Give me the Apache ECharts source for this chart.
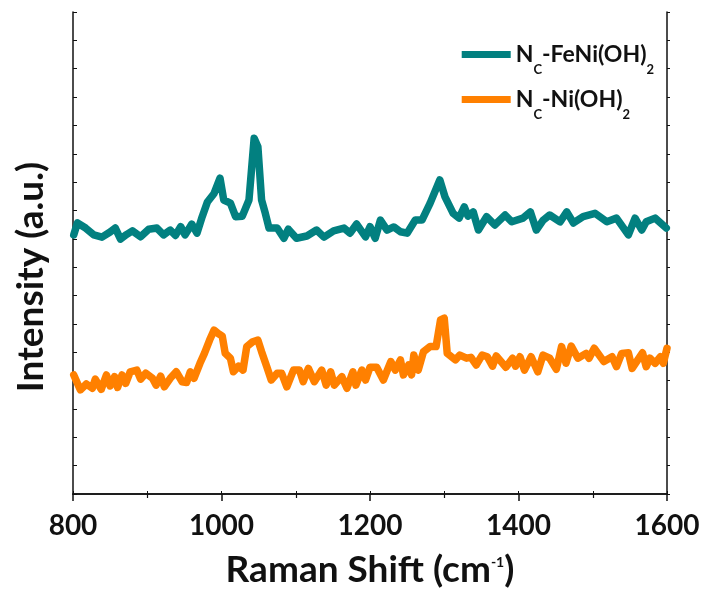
<!DOCTYPE html>
<html>
<head>
<meta charset="utf-8">
<script src="https://cdn.jsdelivr.net/npm/echarts@6/dist/echarts.min.js"></script>
<style>
html,body{margin:0;padding:0;background:#fff;}
#main{width:705px;height:594px;}
</style>
</head>
<body>
<div id="main"></div>
<script>
// Raman spectra (intensity in arbitrary units)
var seriesNames = ['NC-FeNi(OH)2', 'NC-Ni(OH)2'];
var xTicks = [800, 1000, 1200, 1400, 1600];

var fenX = [801, 806, 817, 828, 839, 850, 857, 864, 872, 880, 891, 902, 913, 922, 931, 938, 945, 951, 960, 967, 974, 981, 990, 998, 1003, 1012, 1019, 1028, 1037, 1044, 1049, 1054, 1059, 1064, 1075, 1084, 1090, 1101, 1115, 1128, 1138, 1151, 1165, 1173, 1182, 1194, 1200, 1207, 1214, 1223, 1232, 1241, 1250, 1261, 1270, 1281, 1294, 1301, 1312, 1320, 1327, 1332, 1339, 1346, 1357, 1368, 1382, 1391, 1406, 1416, 1424, 1433, 1442, 1456, 1465, 1474, 1487, 1503, 1519, 1532, 1548, 1557, 1566, 1572, 1584, 1599];
var fenY = [91.4, 95.6, 93.8, 91.4, 90.6, 92.4, 93.8, 89.9, 91.5, 92.8, 90.7, 93.4, 93.8, 91.4, 93.1, 91.2, 94.3, 91.4, 95.2, 92.0, 97.8, 103.0, 106.0, 111.4, 103.7, 102.6, 97.8, 98.0, 103.7, 125.5, 122.5, 103.7, 99.0, 93.8, 93.8, 90.2, 93.4, 90.2, 91.0, 93.1, 90.6, 92.8, 93.8, 92.0, 95.2, 90.7, 94.3, 90.2, 96.6, 93.1, 94.2, 92.5, 92.0, 96.6, 96.6, 102.6, 110.8, 104.8, 99.0, 97.3, 101.3, 98.0, 99.5, 93.1, 97.8, 94.9, 98.4, 96.0, 97.3, 99.5, 93.1, 96.5, 98.4, 96.0, 99.5, 95.6, 97.8, 99.0, 96.0, 97.3, 91.4, 97.3, 93.1, 96.0, 97.3, 93.8];

var niX = [801, 810, 818, 826, 830, 838, 845, 850, 856, 860, 866, 871, 877, 886, 891, 898, 907, 912, 918, 923, 931, 939, 947, 953, 958, 963, 971, 977, 984, 990, 995, 1001, 1005, 1012, 1016, 1023, 1029, 1034, 1042, 1049, 1054, 1061, 1067, 1075, 1081, 1088, 1097, 1105, 1110, 1117, 1125, 1135, 1141, 1147, 1152, 1162, 1169, 1177, 1181, 1189, 1194, 1200, 1209, 1218, 1228, 1234, 1241, 1245, 1252, 1256, 1259, 1265, 1272, 1281, 1289, 1295, 1300, 1304, 1315, 1321, 1330, 1336, 1343, 1351, 1358, 1365, 1370, 1383, 1392, 1396, 1402, 1408, 1417, 1426, 1433, 1442, 1451, 1458, 1464, 1471, 1480, 1491, 1495, 1502, 1515, 1526, 1532, 1539, 1548, 1553, 1567, 1572, 1577, 1584, 1591, 1595, 1600];
var niY = [42.0, 36.7, 38.8, 37.3, 40.5, 36.9, 42.0, 38.1, 41.4, 37.6, 42.0, 39.0, 43.1, 43.7, 40.5, 42.6, 40.8, 38.4, 41.6, 37.8, 40.8, 43.1, 39.6, 39.3, 43.1, 40.8, 46.1, 49.6, 54.3, 57.8, 56.7, 55.7, 49.6, 47.9, 43.1, 45.1, 43.7, 52.0, 53.7, 54.3, 50.2, 44.9, 40.2, 42.6, 42.6, 37.8, 43.7, 43.7, 39.6, 44.3, 39.6, 43.7, 38.4, 43.1, 38.4, 41.4, 37.3, 43.1, 38.4, 43.7, 40.2, 44.7, 44.7, 40.2, 46.7, 43.7, 47.3, 42.0, 45.5, 42.0, 49.0, 43.7, 50.2, 52.0, 52.0, 61.4, 62.0, 49.6, 47.3, 49.0, 47.9, 48.2, 45.5, 49.0, 48.4, 45.1, 48.7, 44.7, 47.9, 45.1, 48.4, 43.7, 48.4, 43.1, 49.0, 47.9, 44.0, 52.0, 46.1, 52.2, 47.9, 49.6, 47.9, 51.4, 46.7, 48.4, 44.9, 49.6, 49.8, 44.3, 49.8, 44.9, 47.9, 46.1, 48.4, 46.1, 51.4];

function pairs(xs, ys) {
    var out = [];
    for (var i = 0; i < xs.length; i++) out.push([xs[i], ys[i]]);
    return out;
}

var fontFam = 'Lato, "Open Sans", sans-serif';

var myChart = echarts.init(document.getElementById('main'));

var option = {
    backgroundColor: '#fff',
    animation: false,
    grid: { left: 73, right: 38, top: 12, bottom: 100 },
    legend: {
        orient: 'vertical',
        right: 46,
        top: 28,
        itemWidth: 49,
        itemHeight: 7,
        itemGap: 2,
        icon: 'rect',
        data: seriesNames,
        formatter: function (name) {
            if (name === seriesNames[0]) return '{n|N}{s|C}{n|-FeNi(OH)}{s|2}';
            return '{n|N}{s|C}{n|-Ni(OH)}{s|2}';
        },
        textStyle: {
            rich: {
                n: { fontFamily: fontFam, fontWeight: 'bold', fontSize: 23, color: '#111', verticalAlign: 'middle', lineHeight: 24 },
                s: { fontFamily: fontFam, fontWeight: 'bold', fontSize: 13, color: '#111', verticalAlign: 'middle', lineHeight: 12, padding: [30, 0, 0, 0] }
            }
        }
    },
    xAxis: [
        {
            type: 'value',
            min: 800, max: 1600, interval: 200,
            name: '{a|Raman Shift (cm}{b|-1}{a|)}',
            nameLocation: 'middle',
            nameGap: 54,
            nameTextStyle: {
                rich: {
                    a: { fontFamily: fontFam, fontWeight: 'bold', fontSize: 37, color: '#111', verticalAlign: 'middle', lineHeight: 44 },
                    b: { fontFamily: fontFam, fontWeight: 'bold', fontSize: 14, color: '#111', verticalAlign: 'middle', lineHeight: 16, padding: [0, 0, 16, 0] }
                }
            },
            axisLine: { lineStyle: { color: '#111', width: 1.5 } },
            axisTick: { inside: false, length: 7, lineStyle: { color: '#111', width: 1.5 } },
            minorTick: { show: true, splitNumber: 2, length: 4, lineStyle: { color: '#111', width: 1.2 } },
            axisLabel: {
                fontFamily: fontFam, fontWeight: 'bold', fontSize: 28, color: '#111', margin: 18,
                formatter: function (v) { return String(v); }
            },
            splitLine: { show: false }
        },
        {
            type: 'value',
            position: 'top',
            min: 800, max: 1600, interval: 100,
            axisLine: { lineStyle: { color: '#111', width: 1.5 } },
            axisTick: { inside: false, length: 3, lineStyle: { color: '#111' } },
            axisLabel: { show: false },
            splitLine: { show: false }
        }
    ],
    yAxis: [
        {
            type: 'value',
            min: 0, max: 170, interval: 10,
            name: 'Intensity (a.u.)',
            nameLocation: 'middle',
            nameGap: 23,
            nameRotate: 90,
            nameTextStyle: { fontFamily: fontFam, fontWeight: 'bold', fontSize: 37, color: '#111', padding: [0, 48, 0, 0] },
            axisLine: { show: true, lineStyle: { color: '#111', width: 1.5 } },
            axisTick: { show: true, inside: true, length: 4, lineStyle: { color: '#111' } },
            axisLabel: { show: false },
            splitLine: { show: false }
        },
        {
            type: 'value',
            position: 'right',
            min: 0, max: 170, interval: 10,
            axisLine: { show: true, lineStyle: { color: '#111', width: 1.5 } },
            axisTick: { show: true, inside: false, length: 3, lineStyle: { color: '#111' } },
            axisLabel: { show: false },
            splitLine: { show: false }
        }
    ],
    series: [
        {
            name: seriesNames[0],
            type: 'line',
            showSymbol: false,
            data: pairs(fenX, fenY),
            itemStyle: { color: '#028080' },
            lineStyle: { color: '#028080', width: 7.5, cap: 'round', join: 'round' }
        },
        {
            name: seriesNames[1],
            type: 'line',
            showSymbol: false,
            data: pairs(niX, niY),
            itemStyle: { color: '#FF8000' },
            lineStyle: { color: '#FF8000', width: 7.5, cap: 'round', join: 'round' }
        }
    ]
};

myChart.setOption(option);

window.onresize = function () {
    myChart.resize();
};
</script>
</body>
</html>
